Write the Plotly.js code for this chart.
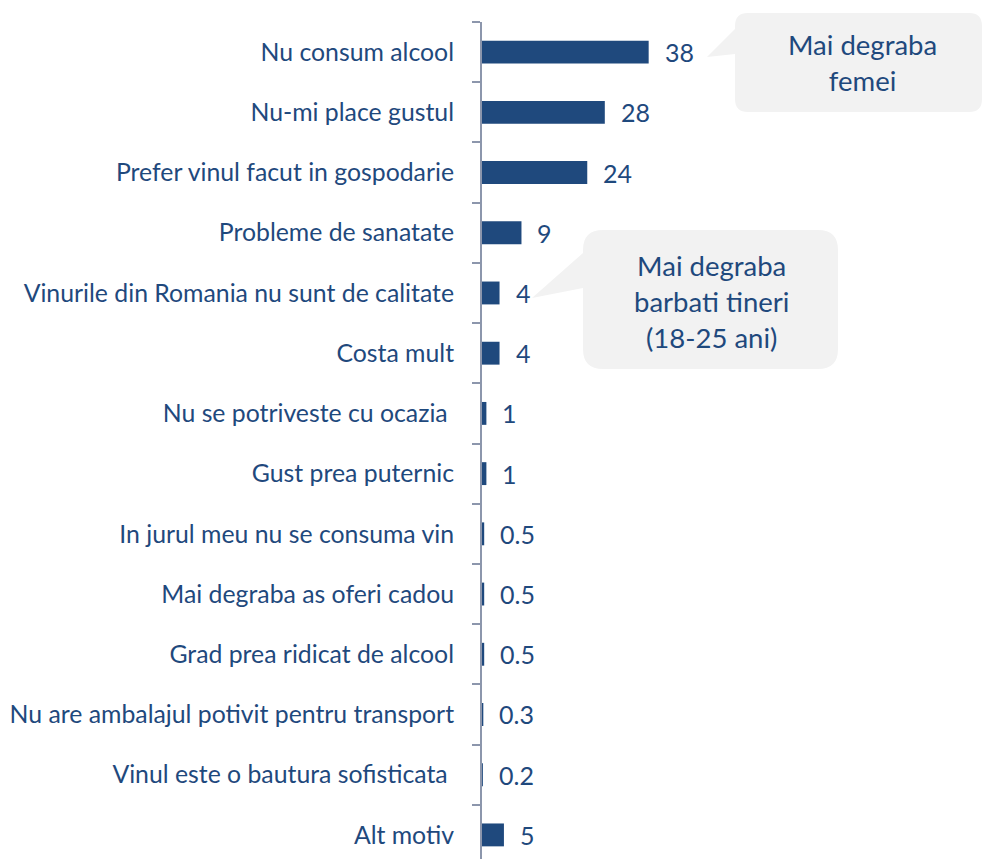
<!DOCTYPE html>
<html>
<head>
<meta charset="utf-8">
<script src="https://cdn.plot.ly/plotly-3.0.1.min.js"></script>
<style>html,body{margin:0;padding:0;background:#fff;}#chart{width:982px;height:859px;}</style>
</head>
<body>
<div id="chart"></div>
<script>
const categories = [
  "Nu consum alcool",
  "Nu-mi place gustul",
  "Prefer vinul facut in gospodarie",
  "Probleme de sanatate",
  "Vinurile din Romania nu sunt de calitate",
  "Costa mult",
  "Nu se potriveste cu ocazia\u00a0",
  "Gust prea puternic",
  "In jurul meu nu se consuma vin",
  "Mai degraba as oferi cadou",
  "Grad prea ridicat de alcool",
  "Nu are ambalajul potivit pentru transport",
  "Vinul este o bautura sofisticata\u00a0",
  "Alt motiv"
];
const values = [38, 28, 24, 9, 4, 4, 1, 1, 0.5, 0.5, 0.5, 0.3, 0.2, 5];
const valueLabels = ["38", "28", "24", "9", "4", "4", "1", "1", "0.5", "0.5", "0.5", "0.3", "0.2", "5"];
const callout1 = ["Mai degraba", "femei"];
const callout2 = ["Mai degraba", "barbati tineri", "(18-25 ani)"];

const W = 982, H = 859;
const M = {l: 482, r: 0, t: 22, b: 0};
const PW = W - M.l - M.r, PH = H - M.t - M.b;
const px = x => (x - M.l) / PW;
const py = y => (H - M.b - y) / PH;

function bubble(x0, y0, x1, y1, r, ptr) {
  const P = (x, y) => px(x).toFixed(5) + "," + py(y).toFixed(5);
  let d = "M " + P(x0 + r, y0);
  d += " L " + P(x1 - r, y0) + " Q " + P(x1, y0) + " " + P(x1, y0 + r);
  d += " L " + P(x1, y1 - r) + " Q " + P(x1, y1) + " " + P(x1 - r, y1);
  d += " L " + P(x0 + r, y1) + " Q " + P(x0, y1) + " " + P(x0, y1 - r);
  d += " L " + P(ptr[2][0], ptr[2][1]) + " L " + P(ptr[1][0], ptr[1][1]) + " L " + P(ptr[0][0], ptr[0][1]);
  d += " L " + P(x0, y0 + r) + " Q " + P(x0, y0) + " " + P(x0 + r, y0) + " Z";
  return {type: "path", xref: "paper", yref: "paper", path: d,
          fillcolor: "#F2F2F2", line: {width: 0}, layer: "above"};
}

const textColor = "#1F497D";
const font = "Lato, 'Open Sans', sans-serif";

const trace = {
  type: "bar",
  orientation: "h",
  y: categories,
  x: values,
  marker: {color: "#1F497D"},
  hoverinfo: "skip"
};

const annotations = categories.map((c, i) => ({
  x: values[i], y: c, xref: "x", yref: "y",
  text: valueLabels[i], showarrow: false,
  xanchor: "left", yanchor: "middle", xshift: 14,
  font: {family: font, size: 25, color: textColor}
}));

annotations.push({
  xref: "paper", yref: "paper", x: px(862), y: py(63),
  text: callout1.join("<br>"), showarrow: false,
  xanchor: "center", yanchor: "middle",
  font: {family: font, size: 27.5, color: textColor}
});
annotations.push({
  xref: "paper", yref: "paper", x: px(711), y: py(301),
  text: callout2.join("<br>"), showarrow: false,
  xanchor: "center", yanchor: "middle",
  font: {family: font, size: 27.5, color: textColor}
});

const layout = {
  width: W, height: H,
  margin: M,
  paper_bgcolor: "#fff", plot_bgcolor: "#fff",
  showlegend: false,
  bargap: 0.62,
  font: {family: font, color: textColor},
  xaxis: {range: [0, 114], visible: false, fixedrange: true},
  yaxis: {
    type: "category",
    range: [13.4, -0.5],
    showline: true, linecolor: "#8C96AC", linewidth: 2,
    ticks: "outside", ticklen: 8, tickwidth: 2, tickcolor: "#8C96AC",
    tickson: "boundaries",
    showgrid: false, zeroline: false,
    ticklabelstandoff: 21,
    tickfont: {family: font, size: 24.8, color: textColor},
    fixedrange: true
  },
  shapes: [
    bubble(735, 13, 982, 112, 13, [[735, 29], [707, 57], [735, 54]]),
    bubble(583, 230, 838, 369, 20, [[583, 253], [532, 298], [583, 288]])
  ],
  annotations: annotations
};

Plotly.newPlot("chart", [trace], layout, {displayModeBar: false, staticPlot: true});
</script>
</body>
</html>
